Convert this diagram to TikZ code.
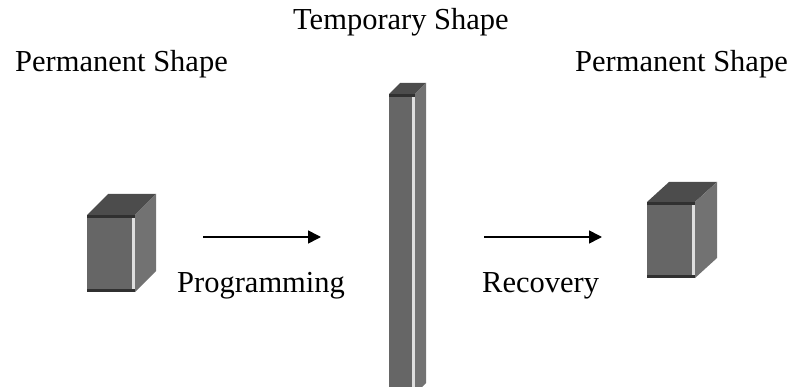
\documentclass[tikz,border=0pt]{standalone}
\usepackage{fontspec}
\setmainfont{Liberation Serif}
\usetikzlibrary{arrows.meta}
\definecolor{faceC}{RGB}{102,102,102}
\definecolor{topC}{RGB}{76,76,76}
\definecolor{sideC}{RGB}{114,114,114}
\definecolor{edgeC}{RGB}{48,48,48}
\definecolor{shineC}{RGB}{222,222,222}
\tikzset{
  label/.style={anchor=base west, inner sep=0pt, font=\fontsize{30.5}{36}\selectfont},
  flow/.style={-{Triangle[length=13pt,width=13pt]}, line width=1.6pt, black},
}
% block: front face left x, top y, width, height, depth dx, depth dy
\newcommand\shapeblock[6]{%
  \fill[topC] (#1,#2) -- ++(#5,-#6) -- ++(#3,0) -- ++(-#5,#6) -- cycle;
  \fill[sideC] (#1+#3,#2) -- ++(#5,-#6) -- ++(0,#4) -- ++(-#5,#6) -- cycle;
  \fill[faceC] (#1,#2) rectangle ++(#3,#4);
  \fill[edgeC] (#1,#2) rectangle ++(#3,3);
  \fill[edgeC] (#1,#2+#4-3) rectangle ++(#3,3);
  \fill[shineC] (#1+#3-3,#2+3) rectangle ++(3,#4-6);
}
\begin{document}
\begin{tikzpicture}[x=1pt,y=-1pt]
\useasboundingbox (0,0) rectangle (794,387);
\clip (0,0) rectangle (794,387);

% solid blocks
\shapeblock{87}{215}{48}{77}{21}{21}
\shapeblock{389}{94}{26}{300}{11}{11}
\shapeblock{647}{202}{48}{76}{22}{20}

% captions
\node[label] (permL) at (15,72) {Permanent Shape};
\node[label] (temp) at (293,30) {Temporary Shape};
\node[label] (permR) at (575,72) {Permanent Shape};
\node[label] (prog) at (177,292) {Programming};
\node[label] (recov) at (482,292) {Recovery};

% arrows
\coordinate (a1s) at (203,237);
\coordinate (a1e) at (321,237);
\coordinate (a2s) at (484,237);
\coordinate (a2e) at (602,237);
\draw[flow] (a1s) -- (a1e);
\draw[flow] (a2s) -- (a2e);
\end{tikzpicture}
\end{document}
